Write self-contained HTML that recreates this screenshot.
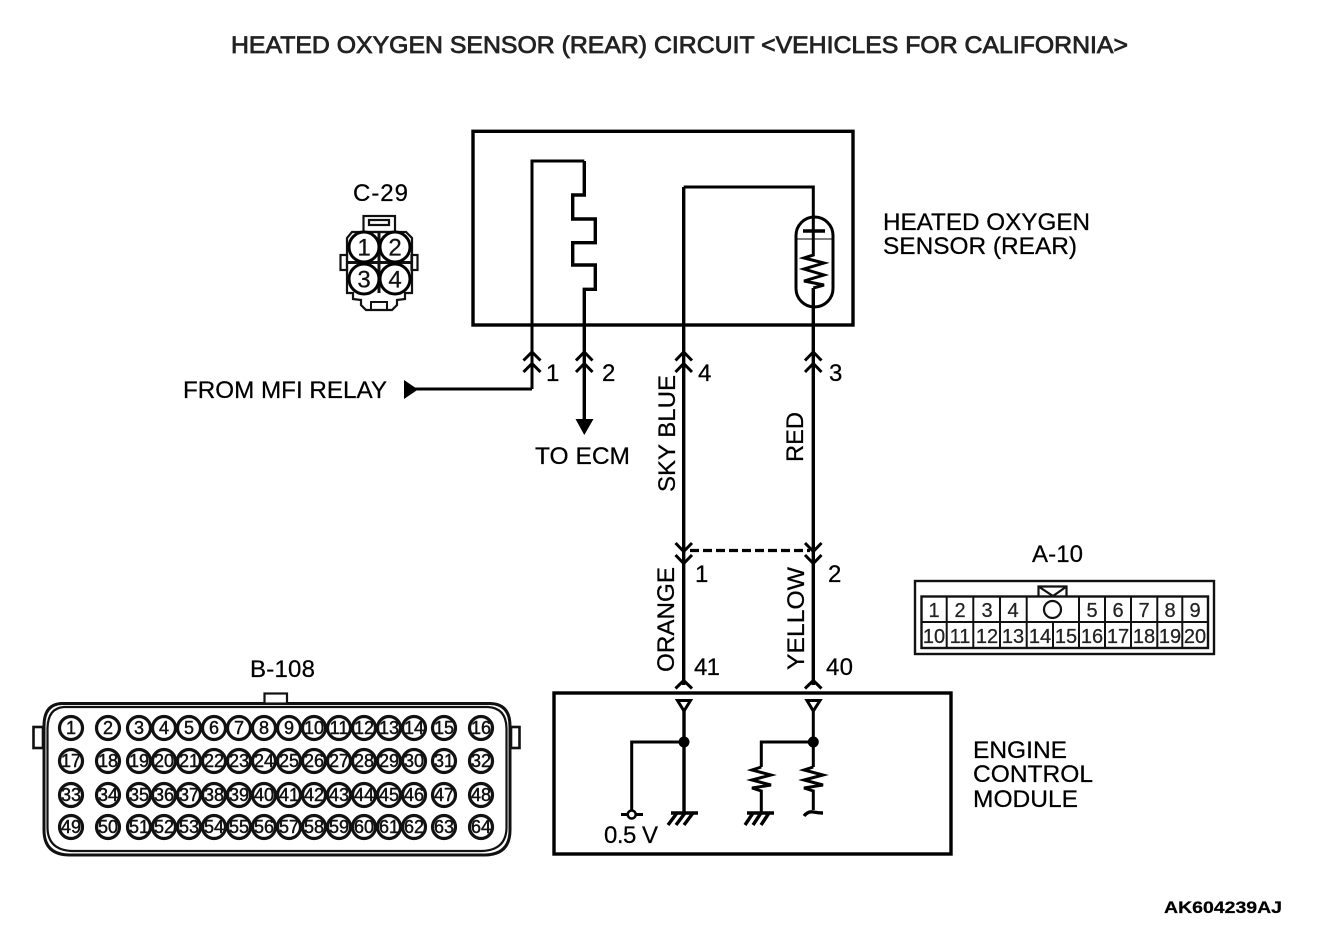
<!DOCTYPE html>
<html><head><meta charset="utf-8"><title>Heated Oxygen Sensor (Rear) Circuit</title>
<style>
html,body{margin:0;padding:0;background:#fff;width:1328px;height:938px;overflow:hidden}
svg{display:block}
text{font-family:"Liberation Sans",sans-serif;fill:#000;font-size:24px;stroke:#000;stroke-width:.25}
.w{fill:none;stroke:#000;stroke-width:3.4}
.t{fill:none;stroke:#000;stroke-width:3}
.d{fill:none;stroke:#111;stroke-width:2.2}
.p circle{fill:#fff;stroke:#111;stroke-width:3.2}
.p text{font-size:18px;text-anchor:middle;fill:#111;stroke:#111;stroke-width:.45}
.a text{font-size:20px;text-anchor:middle;fill:#222;stroke:#222}
.c text{font-size:24px;text-anchor:middle;fill:#111;stroke:#111}
</style></head><body>
<svg width="1328" height="938" viewBox="0 0 1328 938" xmlns="http://www.w3.org/2000/svg">
<text x="231" y="53" style="font-size:24px;fill:#222;stroke:#222;stroke-width:.8" textLength="897" lengthAdjust="spacingAndGlyphs">HEATED OXYGEN SENSOR (REAR) CIRCUIT &lt;VEHICLES FOR CALIFORNIA&gt;</text>

<!-- sensor box -->
<rect x="473" y="131.3" width="380" height="193.7" class="w"/>
<path class="t" d="M532 389V161H584.300"/>
<path class="w" d="M584.300 161V195H572.700V219H595.300V242.700H572.700V265H595.300V289.300H584.300V422" stroke-width="3.600"/>
<path class="t" d="M532 389H415"/>
<path d="M404 380L418 389.500L404 399Z" fill="#000"/>
<path d="M575.500 419H593.500L584.300 435Z" fill="#000"/>
<path class="w" d="M683.700 685V187"/>
<path class="t" d="M683.700 187H813.300V239"/>
<path class="w" d="M813.300 288V685" stroke-width="3"/>
<rect x="796" y="217" width="37" height="90" rx="18.500" ry="18.500" class="t" fill="none"/>
<path class="w" d="M803 231H825"/>
<path d="M796 239H833" stroke="#000" stroke-width="1"/>
<path class="t" d="M813.300 239V255L804 258L824 263L804 269L824 275L804 281L824 285L813.300 288"/>

<!-- up chevrons -->
<g class="t">
<path d="M523.500 360.500L532 352L540.500 360.500M523.500 372L532 363.500L540.500 372"/>
<path d="M576 360.500L584.300 352L592.500 360.500M576 372L584.300 363.500L592.500 372"/>
<path d="M675.500 360.500L683.700 352L692 360.500M675.500 372L683.700 363.500L692 372"/>
<path d="M805 360.500L813.300 352L821.500 360.500M805 372L813.300 363.500L821.500 372"/>
<!-- down chevrons -->
<path d="M675.500 543L683.700 551.500L692 543M675.500 555L683.700 563.500L692 555"/>
<path d="M805 543L813.300 551.500L821.500 543M805 555L813.300 563.500L821.500 555"/>
<!-- lower up chevrons -->
<path d="M675.500 688.500L683.700 680.500L692 688.500"/>
<path d="M805 688.500L813.300 680.500L821.500 688.500"/>
</g>
<path d="M690 550.500H810" stroke="#000" stroke-width="3.200" stroke-dasharray="9 4" fill="none"/>

<!-- wire labels -->
<text x="546" y="381">1</text><text x="602" y="381">2</text><text x="698" y="381">4</text><text x="829" y="381">3</text>
<text x="695" y="582">1</text><text x="828" y="582">2</text>
<text x="694" y="675" textLength="26">41</text><text x="826" y="675" textLength="27">40</text>
<text x="183" y="398" textLength="204" lengthAdjust="spacingAndGlyphs">FROM MFI RELAY</text>
<text x="535" y="464" textLength="95" lengthAdjust="spacingAndGlyphs">TO ECM</text>
<text transform="translate(675 492) rotate(-90)" textLength="117" lengthAdjust="spacingAndGlyphs">SKY BLUE</text>
<text transform="translate(803 462) rotate(-90)" textLength="50" lengthAdjust="spacingAndGlyphs">RED</text>
<text transform="translate(674 672) rotate(-90)" textLength="105" lengthAdjust="spacingAndGlyphs">ORANGE</text>
<text transform="translate(804 670) rotate(-90)" textLength="103" lengthAdjust="spacingAndGlyphs">YELLOW</text>
<text x="883" y="230" textLength="207" lengthAdjust="spacingAndGlyphs">HEATED OXYGEN</text>
<text x="883" y="254" textLength="194" lengthAdjust="spacingAndGlyphs">SENSOR (REAR)</text>
<text x="973" y="758" textLength="94" lengthAdjust="spacingAndGlyphs">ENGINE</text>
<text x="973" y="782" textLength="120" lengthAdjust="spacingAndGlyphs">CONTROL</text>
<text x="973" y="807" textLength="105" lengthAdjust="spacingAndGlyphs">MODULE</text>
<text x="604" y="843" textLength="54">0.5 V</text>
<text x="353" y="201" textLength="55">C-29</text>
<text x="1032" y="562" textLength="51">A-10</text>
<text x="250" y="677" textLength="65">B-108</text>
<text x="1164" y="913" style="font-size:17px;font-weight:bold" textLength="118" lengthAdjust="spacingAndGlyphs">AK604239AJ</text>

<!-- ECM box -->
<rect x="554" y="693" width="397" height="161" class="w"/>
<path d="M677.500 700.500H690.500L684 711Z" fill="#fff" stroke="#000" stroke-width="3"/>
<path d="M807 700.500H820L813.300 711Z" fill="#fff" stroke="#000" stroke-width="3"/>
<path class="w" d="M684 711V812"/>
<path class="t" d="M684 742H631.700V814"/>
<circle cx="684" cy="742" r="5.500"/><circle cx="813.300" cy="742" r="5.500"/>
<path class="t" d="M621 814.500H643"/><circle cx="631.700" cy="814.500" r="4" fill="#fff" stroke="#000" stroke-width="2.500"/>
<path class="t" d="M813.300 711V767M813.300 742H761.300V767"/>
<path class="t" d="M761.300 767L752 770L771 775L752 780L771 785L752 788L761.300 791V812"/>
<path class="t" d="M813.300 767L804 770L823 775L804 780L823 785L804 788L813.300 791V810"/>
<path class="w" d="M804 816Q808 811 813.300 812T823 813"/>
<g class="w">
<path d="M671 813H698"/><path d="M677 813L668 825M685 813L676 825M693 813L684 825"/>
<path d="M747 813H774"/><path d="M753 813L745 825M761 813L753 825M769 813L761 825"/>
</g>

<!-- C-29 connector -->
<g class="d">
<path d="M352 232H406L412 238V293H405V299L397 300V305L392 310H366L361 305V300L353 299V293H347V238Z"/>
<path d="M371 310V302H387V310" stroke-width="2"/>
<rect x="363.500" y="216" width="31.500" height="16"/><rect x="369" y="220" width="20" height="5"/>
<rect x="340.500" y="255" width="6.500" height="15"/><rect x="411.500" y="255" width="6" height="15"/>
<path d="M379 232V293M347 262.500H412" stroke-width="3"/>
</g>
<g class="c">
<circle cx="364" cy="247" r="15" fill="#fff" stroke="#000" stroke-width="3"/><text x="364" y="255.500">1</text>
<circle cx="395" cy="247" r="15" fill="#fff" stroke="#000" stroke-width="3"/><text x="395" y="255.500">2</text>
<circle cx="364" cy="279" r="15" fill="#fff" stroke="#000" stroke-width="3"/><text x="364" y="287.500">3</text>
<circle cx="395" cy="279" r="15" fill="#fff" stroke="#000" stroke-width="3"/><text x="395" y="287.500">4</text>
</g>

<!-- A-10 connector -->
<g class="d">
<rect x="915" y="581" width="299" height="73" stroke-width="2.400"/>
<rect x="921.500" y="596.500" width="286.500" height="51.500" stroke-width="2.400"/>
<path d="M921.500 622H1208M946.700 596.500V648M973.300 596.500V648M1000 596.500V648M1026.700 596.500V648M1053 622V648M1079 596.500V648M1105 596.500V648M1131 596.500V648M1157.300 596.500V648M1182.300 596.500V648" stroke-width="2"/>
<path d="M1038.500 596V586.500H1066.500V596M1038.500 586.500L1053 596L1066.500 586.500" stroke="#111"/>
<circle cx="1052.500" cy="609.500" r="8.500"/>
</g>
<g class="a">
<text x="934" y="617">1</text><text x="960" y="617">2</text><text x="987" y="617">3</text><text x="1013" y="617">4</text>
<text x="1092" y="617">5</text><text x="1118" y="617">6</text><text x="1144" y="617">7</text><text x="1170" y="617">8</text><text x="1195" y="617">9</text>
<text x="934" y="643">10</text><text x="960" y="643">11</text><text x="987" y="643">12</text><text x="1013" y="643">13</text><text x="1040" y="643">14</text><text x="1066" y="643">15</text><text x="1092" y="643">16</text><text x="1118" y="643">17</text><text x="1144" y="643">18</text><text x="1170" y="643">19</text><text x="1195" y="643">20</text>
</g>

<!-- B-108 connector -->
<g class="d">
<path d="M62 703.500H490Q510 704 510 726V830Q510 855 484 855H70Q44 855 44 830V726Q44 704 62 703.500Z" stroke-width="3"/>
<path d="M64 707H488Q506 708 506.500 728V828Q506 850 482 851H72Q48 850 47.500 828V728Q48 708 64 707Z" stroke-width="2.200"/>
<rect x="264.500" y="693.500" width="22.500" height="10" fill="#fff"/>
<rect x="33.500" y="727" width="9.500" height="21" fill="#fff" stroke-width="2.600"/>
<rect x="511" y="727" width="8.500" height="21" fill="#fff" stroke-width="2.600"/>
</g>
<g class="p">
<circle cx="71" cy="728" r="11.500"/><text x="71" y="734">1</text>
<circle cx="108" cy="728" r="11.500"/><text x="108" y="734">2</text>
<circle cx="139" cy="728" r="11.500"/><text x="139" y="734">3</text>
<circle cx="164" cy="728" r="11.500"/><text x="164" y="734">4</text>
<circle cx="189" cy="728" r="11.500"/><text x="189" y="734">5</text>
<circle cx="214" cy="728" r="11.500"/><text x="214" y="734">6</text>
<circle cx="239" cy="728" r="11.500"/><text x="239" y="734">7</text>
<circle cx="264" cy="728" r="11.500"/><text x="264" y="734">8</text>
<circle cx="289" cy="728" r="11.500"/><text x="289" y="734">9</text>
<circle cx="314" cy="728" r="11.500"/><text x="314" y="734">10</text>
<circle cx="339" cy="728" r="11.500"/><text x="339" y="734">11</text>
<circle cx="364" cy="728" r="11.500"/><text x="364" y="734">12</text>
<circle cx="389" cy="728" r="11.500"/><text x="389" y="734">13</text>
<circle cx="414" cy="728" r="11.500"/><text x="414" y="734">14</text>
<circle cx="444" cy="728" r="11.500"/><text x="444" y="734">15</text>
<circle cx="481" cy="728" r="11.500"/><text x="481" y="734">16</text>
<circle cx="71" cy="761" r="11.500"/><text x="71" y="767">17</text>
<circle cx="108" cy="761" r="11.500"/><text x="108" y="767">18</text>
<circle cx="139" cy="761" r="11.500"/><text x="139" y="767">19</text>
<circle cx="164" cy="761" r="11.500"/><text x="164" y="767">20</text>
<circle cx="189" cy="761" r="11.500"/><text x="189" y="767">21</text>
<circle cx="214" cy="761" r="11.500"/><text x="214" y="767">22</text>
<circle cx="239" cy="761" r="11.500"/><text x="239" y="767">23</text>
<circle cx="264" cy="761" r="11.500"/><text x="264" y="767">24</text>
<circle cx="289" cy="761" r="11.500"/><text x="289" y="767">25</text>
<circle cx="314" cy="761" r="11.500"/><text x="314" y="767">26</text>
<circle cx="339" cy="761" r="11.500"/><text x="339" y="767">27</text>
<circle cx="364" cy="761" r="11.500"/><text x="364" y="767">28</text>
<circle cx="389" cy="761" r="11.500"/><text x="389" y="767">29</text>
<circle cx="414" cy="761" r="11.500"/><text x="414" y="767">30</text>
<circle cx="444" cy="761" r="11.500"/><text x="444" y="767">31</text>
<circle cx="481" cy="761" r="11.500"/><text x="481" y="767">32</text>
<circle cx="71" cy="795" r="11.500"/><text x="71" y="801">33</text>
<circle cx="108" cy="795" r="11.500"/><text x="108" y="801">34</text>
<circle cx="139" cy="795" r="11.500"/><text x="139" y="801">35</text>
<circle cx="164" cy="795" r="11.500"/><text x="164" y="801">36</text>
<circle cx="189" cy="795" r="11.500"/><text x="189" y="801">37</text>
<circle cx="214" cy="795" r="11.500"/><text x="214" y="801">38</text>
<circle cx="239" cy="795" r="11.500"/><text x="239" y="801">39</text>
<circle cx="264" cy="795" r="11.500"/><text x="264" y="801">40</text>
<circle cx="289" cy="795" r="11.500"/><text x="289" y="801">41</text>
<circle cx="314" cy="795" r="11.500"/><text x="314" y="801">42</text>
<circle cx="339" cy="795" r="11.500"/><text x="339" y="801">43</text>
<circle cx="364" cy="795" r="11.500"/><text x="364" y="801">44</text>
<circle cx="389" cy="795" r="11.500"/><text x="389" y="801">45</text>
<circle cx="414" cy="795" r="11.500"/><text x="414" y="801">46</text>
<circle cx="444" cy="795" r="11.500"/><text x="444" y="801">47</text>
<circle cx="481" cy="795" r="11.500"/><text x="481" y="801">48</text>
<circle cx="71" cy="827" r="11.500"/><text x="71" y="833">49</text>
<circle cx="108" cy="827" r="11.500"/><text x="108" y="833">50</text>
<circle cx="139" cy="827" r="11.500"/><text x="139" y="833">51</text>
<circle cx="164" cy="827" r="11.500"/><text x="164" y="833">52</text>
<circle cx="189" cy="827" r="11.500"/><text x="189" y="833">53</text>
<circle cx="214" cy="827" r="11.500"/><text x="214" y="833">54</text>
<circle cx="239" cy="827" r="11.500"/><text x="239" y="833">55</text>
<circle cx="264" cy="827" r="11.500"/><text x="264" y="833">56</text>
<circle cx="289" cy="827" r="11.500"/><text x="289" y="833">57</text>
<circle cx="314" cy="827" r="11.500"/><text x="314" y="833">58</text>
<circle cx="339" cy="827" r="11.500"/><text x="339" y="833">59</text>
<circle cx="364" cy="827" r="11.500"/><text x="364" y="833">60</text>
<circle cx="389" cy="827" r="11.500"/><text x="389" y="833">61</text>
<circle cx="414" cy="827" r="11.500"/><text x="414" y="833">62</text>
<circle cx="444" cy="827" r="11.500"/><text x="444" y="833">63</text>
<circle cx="481" cy="827" r="11.500"/><text x="481" y="833">64</text>
</g>
</svg>
</body></html>
